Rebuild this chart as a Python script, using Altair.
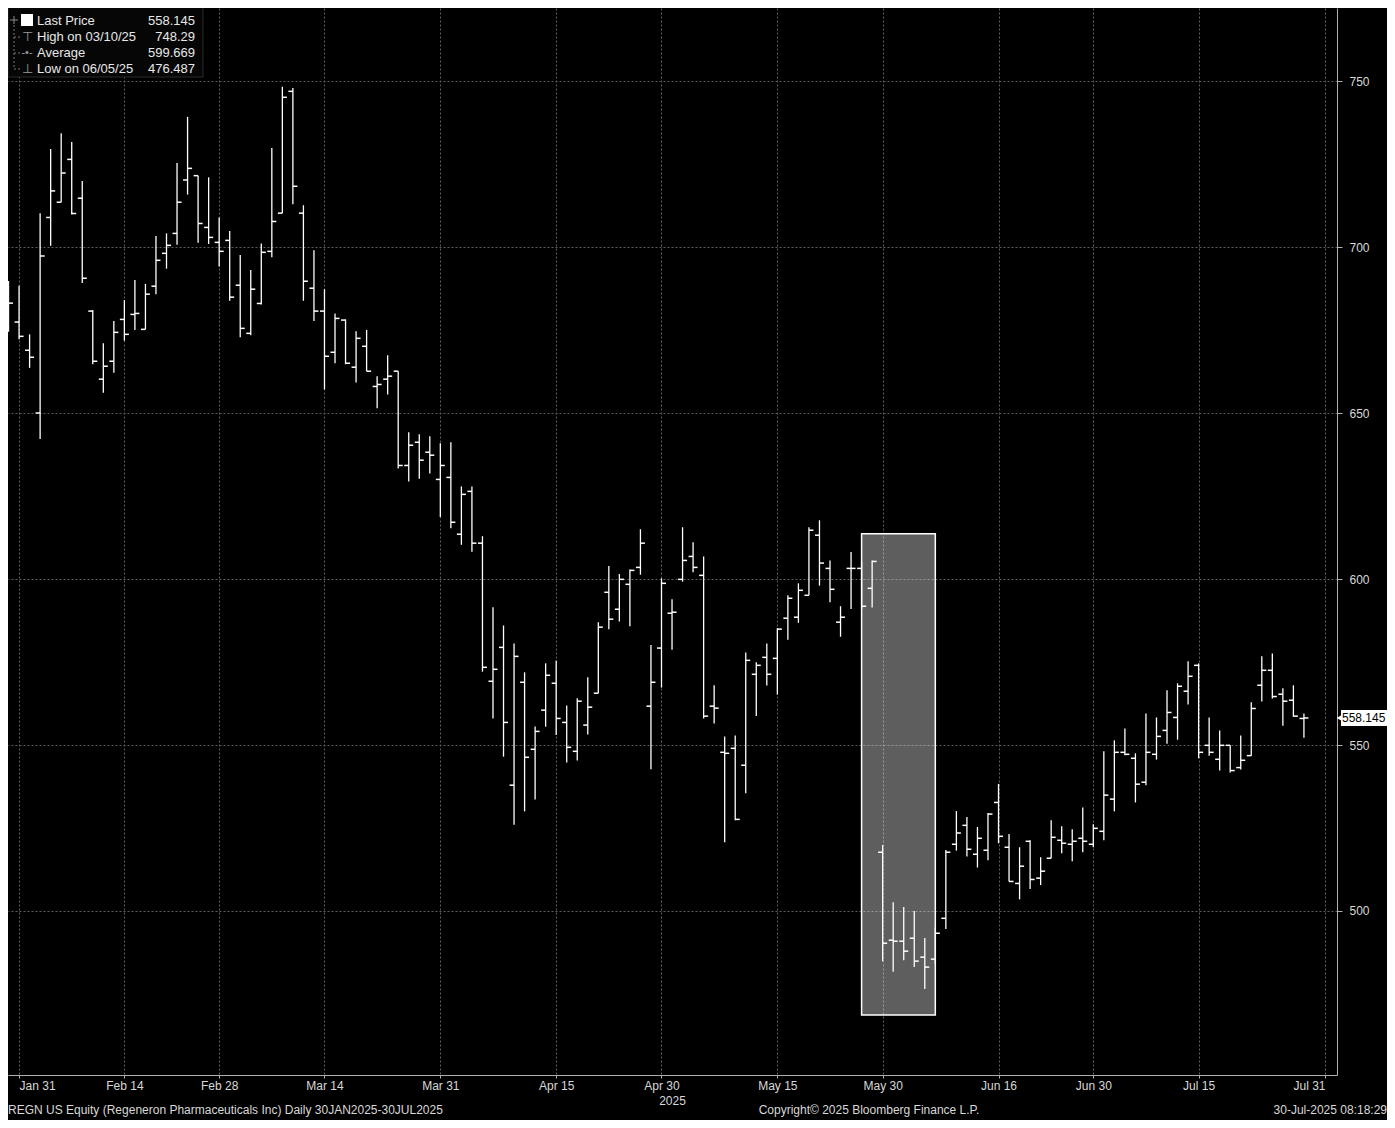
import altair as alt
import pandas as pd

# ---- data (trading-day index 0 = 30 Jan 2025) ----
opens = [686.0, 677.4, 668.9, 650.0, 708.9, 713.5, 726.4, 714.7, 680.7, 660.2,
         665.6, 678.2, 679.7, 675.2, 688.2, 698.1, 704.1, 720.2, 721.5, 705.9,
         701.4, 702.0, 688.5, 674.0, 683.0, 698.7, 710.2, 746.9, 710.2, 687.6,
         680.7, 668.3, 678.0, 663.8, 670.1, 658.0, 660.2, 662.6, 634.2, 641.2,
         638.2, 630.0, 630.6, 613.5, 626.4, 610.8, 569.2, 579.4, 537.9, 568.9,
         548.7, 560.5, 568.6, 556.8, 548.1, 556.0, 565.6, 596.0, 590.9, 598.4,
         603.5, 561.7, 579.2, 589.7, 599.9, 606.8, 601.1, 561.7, 547.8, 549.0,
         543.9, 571.3, 576.4, 576.1, 588.2, 588.5, 595.1, 613.2, 603.2, 587.0,
         603.2, 603.2, 597.2, 517.7, 491.2, 490.9, 491.8, 486.1, 485.5, 497.8,
         520.1, 525.8, 517.1, 518.3, 532.7, 519.2, 508.3, 521.0, 509.9, 515.9,
         521.3, 520.1, 521.9, 520.1, 524.0, 533.7, 547.8, 546.0, 538.8, 547.2,
         554.4, 558.3, 566.2, 574.0, 549.9, 545.7, 549.9, 543.2, 546.8, 568.0,
         572.5, 565.3, 563.5, 558.0]
highs = [689.8, 688.3, 673.7, 710.2, 729.5, 734.3, 731.6, 719.9, 681.0, 671.0,
         677.7, 684.0, 690.1, 688.9, 703.3, 704.1, 725.3, 739.2, 721.5, 721.0,
         708.9, 704.8, 697.6, 693.1, 701.1, 729.8, 748.3, 747.9, 712.6, 699.0,
         687.3, 680.0, 678.2, 674.6, 675.0, 661.1, 667.4, 662.6, 644.2, 643.6,
         643.0, 640.9, 641.2, 627.9, 627.9, 612.9, 591.5, 586.0, 580.6, 571.9,
         555.6, 574.6, 575.4, 561.9, 564.1, 570.4, 587.0, 603.9, 601.5, 602.9,
         615.0, 580.1, 600.2, 593.9, 615.6, 611.1, 606.8, 568.0, 552.6, 552.9,
         577.9, 574.9, 580.6, 585.2, 595.1, 598.7, 615.6, 617.7, 605.6, 591.8,
         608.1, 605.5, 605.6, 519.9, 502.6, 501.2, 500.0, 491.9, 495.0, 518.4,
         530.1, 528.3, 525.3, 529.5, 538.3, 523.2, 519.2, 521.3, 516.2, 527.3,
         525.5, 524.6, 531.2, 526.1, 548.1, 551.4, 555.0, 547.5, 559.5, 558.3,
         566.5, 568.6, 575.2, 574.6, 558.3, 554.4, 549.9, 552.9, 562.9, 576.7,
         577.6, 567.1, 568.0, 559.5]
lows = [674.5, 672.2, 663.6, 642.2, 700.4, 713.5, 709.8, 689.2, 664.7, 656.1,
        662.1, 671.8, 675.0, 675.2, 685.8, 693.5, 700.7, 715.8, 701.3, 700.9,
        694.1, 683.8, 672.8, 673.4, 682.7, 696.9, 710.2, 712.9, 683.8, 677.7,
        657.1, 665.0, 664.7, 659.2, 662.6, 651.4, 655.6, 633.3, 629.4, 630.2,
        631.8, 618.7, 615.3, 610.3, 608.2, 572.1, 558.0, 546.5, 526.0, 530.0,
        533.6, 555.5, 553.0, 544.7, 545.3, 553.2, 565.6, 584.9, 587.2, 585.8,
        601.3, 542.7, 567.3, 578.7, 599.2, 602.0, 558.0, 556.5, 520.7, 527.3,
        535.5, 558.7, 567.9, 565.2, 581.7, 586.8, 595.1, 598.0, 593.0, 582.6,
        591.0, 591.0, 591.4, 484.9, 481.7, 485.2, 483.1, 476.5, 484.0, 494.6,
        518.2, 516.4, 513.1, 515.3, 520.4, 508.9, 503.5, 506.6, 507.8, 515.9,
        517.4, 515.0, 517.7, 519.2, 521.3, 530.0, 546.9, 532.7, 537.9, 545.6,
        550.4, 551.6, 562.2, 546.0, 546.8, 542.3, 541.7, 542.6, 546.8, 563.1,
        564.0, 555.8, 558.5, 552.2]
closes = [683.1, 673.1, 666.8, 697.3, 716.9, 722.3, 710.1, 690.6, 665.6, 664.1,
          674.3, 673.7, 680.0, 685.8, 696.0, 700.5, 713.5, 723.7, 707.1, 702.9,
          698.7, 684.9, 675.5, 687.3, 698.4, 707.7, 745.1, 718.3, 689.7, 680.7,
          667.1, 678.5, 665.0, 672.5, 662.6, 658.6, 661.1, 634.2, 640.3, 635.8,
          637.3, 634.2, 617.1, 625.5, 610.8, 573.4, 572.8, 556.8, 576.7, 546.3,
          554.1, 571.0, 558.0, 549.3, 563.2, 561.4, 585.5, 587.9, 599.9, 602.6,
          610.8, 568.9, 598.7, 590.0, 605.6, 603.5, 558.7, 561.1, 547.5, 527.6,
          575.5, 574.0, 571.3, 584.9, 594.2, 596.6, 614.7, 604.8, 596.9, 588.5,
          603.2, 591.8, 605.3, 490.3, 490.9, 487.9, 484.9, 483.1, 493.3, 517.7,
          523.5, 518.6, 521.9, 529.2, 522.5, 508.9, 513.5, 509.5, 512.0, 522.2,
          520.4, 521.0, 521.0, 524.9, 534.9, 547.8, 547.2, 538.2, 547.8, 552.6,
          559.8, 567.7, 570.7, 547.8, 547.8, 549.9, 542.3, 545.4, 561.0, 572.5,
          564.6, 563.2, 558.7, 558.145]

tick_idx = [1, 11, 20, 30, 41, 52, 62, 73, 83, 94, 103, 113, 125]
tick_labels = ["Jan 31", "Feb 14", "Feb 28", "Mar 14", "Mar 31", "Apr 15", "Apr 30",
               "May 15", "May 30", "Jun 16", "Jun 30", "Jul 15", "Jul 31"]
y_ticks = [500, 550, 600, 650, 700, 750]

highlight_x = [81]
highlight_x2 = [88]
highlight_top = [613.6]
highlight_bottom = [468.7]

last_price = [558.145]
legend_labels = ["Last Price", "High on 03/10/25", "Average", "Low on 06/05/25"]
legend_values = ["558.145", "748.29", "599.669", "476.487"]

# ---- layout ----
W, H = 1329, 1067
PAD_R, PAD_B = 50, 45
FONT = "Liberation Sans"
TXT = "#d8d8d8"
GRID = "#5c5c5c"

df = pd.DataFrame({"i": list(range(len(closes))), "open": opens, "high": highs,
                   "low": lows, "close": closes})
hl = pd.DataFrame({"x": highlight_x, "x2": highlight_x2,
                   "y": highlight_top, "y2": highlight_bottom})
lp = pd.DataFrame({"v": last_price, "t": [f"{last_price[0]:.3f}"]})
dummy = pd.DataFrame({"a": [0]})

label_expr = ("[" + ",".join(f"'{t}'" for t in tick_labels) + "][indexof(["
              + ",".join(str(t) for t in tick_idx) + "], datum.value)]")

xscale = alt.Scale(domain=[-0.05, 126.14], nice=False, zero=False)
yscale = alt.Scale(domain=[450.6, 772.0], nice=False, zero=False)

xaxis = alt.Axis(values=tick_idx, labelExpr=label_expr, grid=True, gridDash=[2, 2],
                 gridColor=GRID, gridWidth=1, domainColor="#b0b0b0", tickColor="#b0b0b0",
                 tickSize=3, labelPadding=2, labelColor=TXT, labelFontSize=12,
                 labelFont=FONT, labelFlush=20, title=None, orient="bottom")
yaxis = alt.Axis(values=y_ticks, grid=True, gridDash=[2, 2], gridColor=GRID, gridWidth=1,
                 domainColor="#b0b0b0", tickColor="#b0b0b0", tickSize=5, labelPadding=7,
                 labelColor=TXT, labelFontSize=12, labelFont=FONT, title=None,
                 orient="right")

rect = alt.Chart(hl).mark_rect(fill="#ffffff", fillOpacity=0.37, stroke="#ffffff",
                               strokeWidth=1.5).encode(
    x=alt.X("x:Q", scale=xscale, axis=xaxis),
    x2="x2:Q",
    y=alt.Y("y:Q", scale=yscale, axis=yaxis),
    y2="y2:Q",
)

hilo = alt.Chart(df).mark_rule(color="white", strokeWidth=1.3).encode(
    x=alt.X("i:Q", scale=xscale), y=alt.Y("low:Q", scale=yscale), y2="high:Q")
op = alt.Chart(df).mark_rule(color="white", strokeWidth=1.5, xOffset=-4.5,
                             x2Offset=0, clip=True).encode(
    x=alt.X("i:Q", scale=xscale), x2="i:Q", y=alt.Y("open:Q", scale=yscale))
cl = alt.Chart(df).mark_rule(color="white", strokeWidth=1.5, xOffset=0,
                             x2Offset=4.5, clip=True).encode(
    x=alt.X("i:Q", scale=xscale), x2="i:Q", y=alt.Y("close:Q", scale=yscale))


def txt(text, x, y, align="left", size=12, color=TXT, baseline="middle"):
    return alt.Chart(dummy).mark_text(text=text, align=align, baseline=baseline,
                                      fontSize=size, color=color, font=FONT).encode(
        x=alt.value(x), y=alt.value(y))


def rule(x, x2, y, y2, color="#777777", dash=None, width=1):
    kw = dict(color=color, strokeWidth=width)
    if dash:
        kw["strokeDash"] = dash
    return alt.Chart(dummy).mark_rule(**kw).encode(
        x=alt.value(x), x2=alt.value(x2), y=alt.value(y), y2=alt.value(y2))


# last price tag on the right axis
tag_rect = alt.Chart(lp).mark_rect(color="white", yOffset=-8, y2Offset=8).encode(
    x=alt.value(W + 4), x2=alt.value(W + PAD_R),
    y=alt.Y("v:Q", scale=yscale), y2="v:Q")
tag_arrow = alt.Chart(lp).mark_point(shape="triangle-left", filled=True, color="white",
                                     size=60, opacity=1).encode(
    x=alt.value(W + 3), y=alt.Y("v:Q", scale=yscale))
tag_text = alt.Chart(lp).mark_text(color="black", fontSize=12, font=FONT, align="left",
                                   baseline="middle").encode(
    x=alt.value(W + 5), y=alt.Y("v:Q", scale=yscale), text="t:N")

# legend box
leg_bg = alt.Chart(dummy).mark_rect(fill="#060606", stroke="#2a2a2a").encode(
    x=alt.value(0), x2=alt.value(195), y=alt.value(-3), y2=alt.value(69))
leg_sq = alt.Chart(dummy).mark_rect(fill="white").encode(
    x=alt.value(13), x2=alt.value(25), y=alt.value(6), y2=alt.value(18))
leg_layers = [leg_bg, leg_sq,
              rule(6, 6, 17, 61, dash=[2, 2]),
              rule(6, 12, 29, 29, dash=[2, 2]),
              rule(6, 12, 45, 45, dash=[2, 2]),
              rule(6, 12, 61, 61, dash=[2, 2]),
              rule(2, 10, 12, 12, color="#888888"),
              rule(6, 6, 8, 16, color="#888888"),
              txt("⊤", 19, 29, align="center", size=13, color="#9a9a9a"),
              txt("-•-", 19, 45, align="center", size=11, color="#9a9a9a"),
              txt("⊥", 19, 61, align="center", size=13, color="#9a9a9a")]
line_y = [13, 29, 45, 61]
for lab, val, yy in zip(legend_labels, legend_values, line_y):
    leg_layers.append(txt(lab, 29, yy, size=13, color="#e8e8e8"))
    leg_layers.append(txt(val, 187, yy, align="right", size=13, color="#e8e8e8"))

FOOT_Y = H + 35
footer = [
    txt("2025", W / 2, H + 26, align="center"),
    txt("REGN US Equity (Regeneron Pharmaceuticals Inc)  Daily 30JAN2025-30JUL2025",
        0, FOOT_Y),
    txt("Copyright© 2025 Bloomberg Finance L.P.", 861, FOOT_Y, align="center"),
    txt("30-Jul-2025 08:18:29", W + PAD_R, FOOT_Y, align="right"),
]

chart = alt.layer(rect, hilo, op, cl, tag_rect, tag_arrow, tag_text,
                  *leg_layers, *footer).properties(
    width=W, height=H, background="black",
    padding={"left": 0, "top": 0, "right": PAD_R, "bottom": PAD_B},
    autosize=alt.AutoSizeParams(type="none"),
).configure_view(stroke=None)

chart.save("out.html", embed_options={"renderer": "svg", "actions": False})
